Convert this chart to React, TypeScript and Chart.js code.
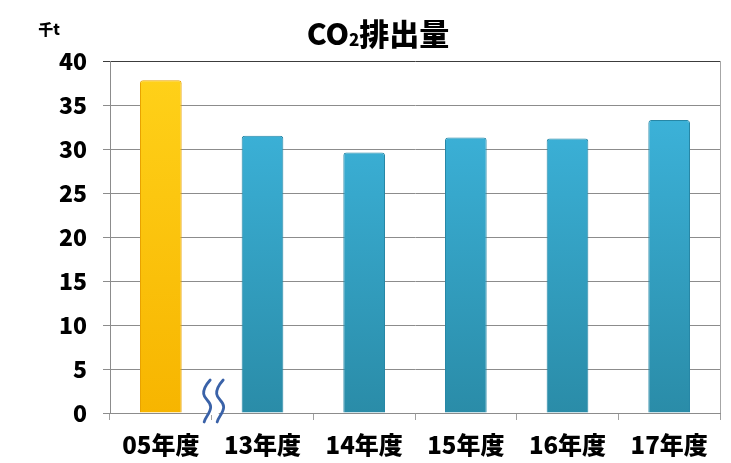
import { useEffect, useRef } from 'react';
import { Chart, registerables } from 'chart.js';

Chart.register(...registerables);

const categories = ['05年度', '13年度', '14年度', '15年度', '16年度', '17年度'];
const emissions = [37.8, 31.5, 29.6, 31.3, 31.2, 33.3];
const baseYearFlags = [true, false, false, false, false, false];
const yMin = 0;
const yMax = 40;
const yStep = 5;
const titleMain = 'CO';
const titleSub = '2';
const titleRest = '排出量';
const unitLabel = '千t';

const FONT = '"Noto Sans CJK JP", "Noto Sans", sans-serif';

export default function App() {
  const ref = useRef<HTMLCanvasElement | null>(null);

  useEffect(() => {
    const canvas = ref.current;
    if (!canvas) return;

    const decor = {
      id: 'decor',
      afterDraw(chart: any) {
        const ctx = chart.ctx;
        const area = chart.chartArea;
        const xs = chart.scales.x;
        ctx.save();
        // right border of plot area
        ctx.strokeStyle = '#a6a6a6';
        ctx.lineWidth = 1;
        ctx.beginPath();
        ctx.moveTo(area.right + 0.5, area.top);
        ctx.lineTo(area.right + 0.5, area.bottom);
        ctx.stroke();

        // title
        ctx.fillStyle = '#000';
        ctx.textBaseline = 'alphabetic';
        const big = '900 30px ' + FONT;
        const small = '900 17px ' + FONT;
        ctx.font = big;
        const w1 = ctx.measureText(titleMain).width;
        const w3 = ctx.measureText(titleRest).width;
        ctx.font = small;
        const w2 = ctx.measureText(titleSub).width;
        const total = w1 + w2 + w3;
        let tx = 378 - total / 2;
        const ty = 45;
        ctx.font = big;
        ctx.textAlign = 'left';
        ctx.fillText(titleMain, tx, ty);
        tx += w1;
        ctx.font = small;
        ctx.fillText(titleSub, tx, ty + 1);
        tx += w2;
        ctx.font = big;
        ctx.fillText(titleRest, tx, ty);

        // unit
        ctx.font = '900 15px ' + FONT;
        ctx.textAlign = 'center';
        ctx.fillText(unitLabel, 49, 35);

        // axis break symbol between first and second category
        const cx = xs.getPixelForValue(0.5) + 2;
        const bottom = area.bottom;
        const top = bottom - 33;
        const end = bottom + 9;
        const h = end - top;
        ctx.fillStyle = '#fff';
        ctx.fillRect(cx - 5, bottom - 2, 10, 4);
        ctx.strokeStyle = '#3a62a8';
        ctx.lineWidth = 2.8;
        ctx.lineCap = 'round';
        [cx - 6.5, cx + 6.5].forEach((c) => {
          ctx.beginPath();
          ctx.moveTo(c + 3, top);
          ctx.bezierCurveTo(c, top + h * 0.08, c - 4, top + h * 0.2, c - 3.5, top + h * 0.33);
          ctx.bezierCurveTo(c - 3, top + h * 0.46, c + 3.5, top + h * 0.5, c + 3.5, top + h * 0.64);
          ctx.bezierCurveTo(c + 3.5, top + h * 0.78, c - 2, top + h * 0.88, c - 3, top + h);
          ctx.stroke();
        });
        ctx.restore();
      },
    };

    const chart = new Chart(canvas, {
      type: 'bar',
      data: {
        labels: categories,
        datasets: [
          {
            data: emissions,
            backgroundColor: (c: any) => {
              const ch = c.chart;
              const area = ch.chartArea;
              const isBase = baseYearFlags[c.dataIndex];
              if (!area) return isBase ? '#ffc400' : '#35a8cf';
              const g = ch.ctx.createLinearGradient(0, area.top, 0, area.bottom);
              if (isBase) {
                g.addColorStop(0, '#ffd21a');
                g.addColorStop(1, '#f7b500');
              } else {
                g.addColorStop(0, '#3fb9e2');
                g.addColorStop(1, '#2a8ca8');
              }
              return g;
            },
            borderColor: (c: any) => (baseYearFlags[c.dataIndex] ? '#e8a200' : '#2787a6'),
            borderWidth: 1,
            borderSkipped: 'bottom',
            borderRadius: { topLeft: 3, topRight: 3, bottomLeft: 0, bottomRight: 0 },
            barPercentage: 0.41,
            categoryPercentage: 1,
          },
        ],
      },
      options: {
        animation: false,
        responsive: true,
        maintainAspectRatio: false,
        layout: { padding: { top: 61, right: 11, left: 0, bottom: 0 } },
        plugins: {
          legend: { display: false },
          title: { display: false },
          tooltip: { enabled: false },
        },
        scales: {
          x: {
            afterFit: (s: any) => {
              s.height = 50;
            },
            grid: {
              offset: true,
              drawOnChartArea: false,
              tickLength: 7,
              color: '#a0a0a0',
            },
            border: { display: true, color: '#8c8c8c' },
            ticks: {
              color: '#000',
              padding: 10,
              font: { family: FONT, size: 24, weight: '900' },
            },
          },
          y: {
            min: yMin,
            max: yMax,
            afterFit: (s: any) => {
              s.width = 110;
            },
            grid: {
              color: (c: any) => (c.tick && c.tick.value === yMax ? '#3c3c3c' : '#8c8c8c'),
              tickLength: 7,
            },
            border: { display: true, color: '#8c8c8c' },
            ticks: {
              stepSize: yStep,
              color: '#000',
              padding: 16,
              font: { family: FONT, size: 23, weight: '900' },
            },
          },
        },
      },
      plugins: [decor],
    } as any);

    return () => chart.destroy();
  }, []);

  return (
    <div style={{ position: 'fixed', left: 0, top: 0, width: 731, height: 463, background: '#fff' }}>
      <canvas ref={ref} />
    </div>
  );
}
